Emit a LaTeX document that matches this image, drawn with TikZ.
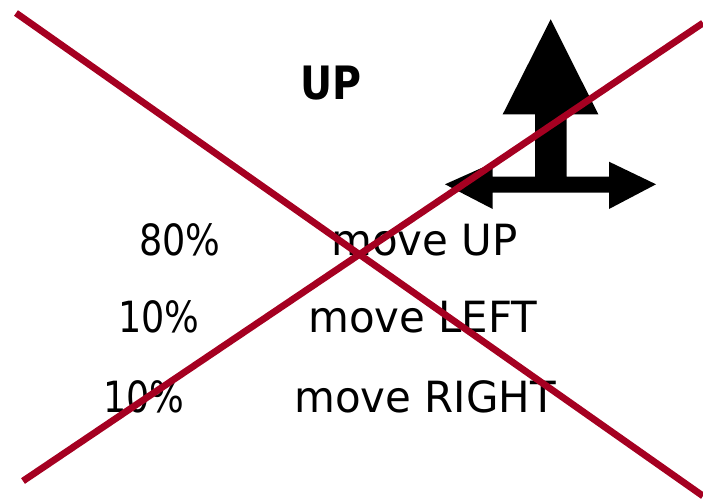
\documentclass[tikz,border=0pt]{standalone}
\usepackage{fontspec}
\setmainfont{DejaVu Sans}[FakeStretch=0.975]
\newfontfamily\narrowfont{DejaVu Sans}[FakeStretch=0.85]
\newfontfamily\hdrfont{DejaVu Sans}[FakeStretch=0.86]
\definecolor{crossred}{HTML}{A50021}
\begin{document}
\begin{tikzpicture}[x=1pt,y=-1pt,
  lbl/.style={anchor=base west,inner sep=0pt,font=\fontsize{43}{50}\selectfont},
  pct/.style={anchor=base west,inner sep=0pt,font=\narrowfont\fontsize{43}{50}\selectfont},
  hdr/.style={anchor=base west,inner sep=0pt,font=\hdrfont\fontsize{46}{52}\selectfont\bfseries},
  crossline/.style={draw=crossred,line width=6.8pt}]
\useasboundingbox (0,0) rectangle (703,498);
% arrow symbol
\fill[black] (550.7,19.3) -- (598.3,114.3) -- (566.7,114.3) -- (566.7,176.7)
  -- (609,176.7) -- (609,161.7) -- (656,184.3) -- (609,209) -- (609,192.7)
  -- (492.7,192.7) -- (492.7,209) -- (445,184.3) -- (492.7,163) -- (492.7,176.7)
  -- (535,176.7) -- (535,114.3) -- (502.7,114.3) -- cycle;
% texts
\node[hdr] (up) at (300,99.3) {UP};
\node[pct] (p1) at (139,255) {80\%};
\node[lbl] (m1) at (331,255) {move UP};
\node[pct] (p2) at (118,332) {10\%};
\node[lbl] (m2) at (308,332) {move LEFT};
\node[pct] (p3) at (103,412) {10\%};
\node[lbl] (m3) at (294,412) {move RIGHT};
% cross
\coordinate (a1) at (16,13);
\coordinate (a2) at (703,496);
\coordinate (b1) at (23,481);
\coordinate (b2) at (703,23);
\draw[crossline] (a1) -- (a2);
\draw[crossline] (b1) -- (b2);
\end{tikzpicture}
\end{document}
